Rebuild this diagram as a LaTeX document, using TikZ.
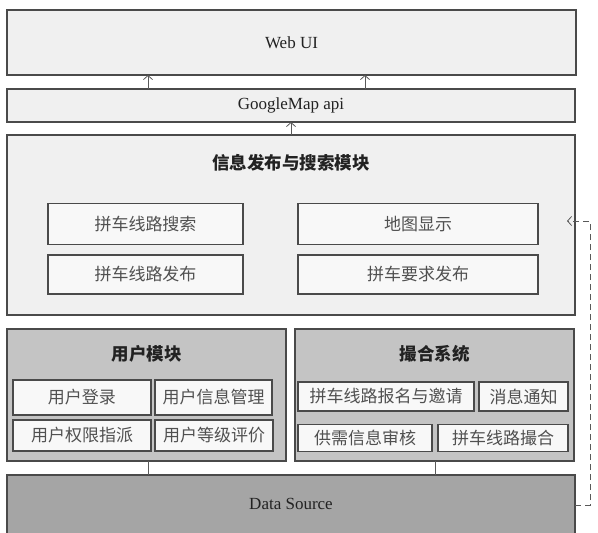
\documentclass[tikz,border=0pt]{standalone}
\usepackage{fontspec}
\setmainfont{Liberation Serif}
\newfontfamily\cjk{Noto Sans CJK SC}
\usetikzlibrary{arrows.meta}
\definecolor{bordc}{HTML}{4A4A4A}
\definecolor{lightf}{HTML}{F0F0F0}
\definecolor{subf}{HTML}{F8F8F8}
\definecolor{midf}{HTML}{C4C4C4}
\definecolor{darkf}{HTML}{A5A5A5}
\definecolor{txtc}{HTML}{222222}
\definecolor{subt}{HTML}{505050}
\tikzset{
  box/.style={draw=bordc, line width=1.2pt, inner sep=0pt, outer sep=0pt, font=\fontsize{17}{20}\selectfont, text=txtc},
  subbox/.style={box, fill=subf, text=subt, font=\cjk\fontsize{17}{20}\selectfont},
  ttl/.style={inner sep=0pt, text=txtc, font=\cjk\bfseries\fontsize{17.5}{20}\selectfont},
  arr/.style={draw=black!65, line width=0.8pt, -{Straight Barb[length=4pt,width=9pt]}},
  conn/.style={draw=black!65, line width=0.8pt},
}
\begin{document}
\begin{tikzpicture}[x=1pt,y=-1pt]
\clip (0,0) rectangle (598,533);
\fill[white] (0,0) rectangle (598,533);
% top layers
\node[box, fill=lightf, minimum width=569pt, minimum height=65pt] (webui) at (291.5,42.5) {Web UI};
\node[box, fill=lightf, minimum width=568pt, minimum height=33pt] (gmap) at (291,105.5) {GoogleMap api};
% info module
\node[box, fill=lightf, minimum width=568pt, minimum height=180pt] (info) at (291,225) {};
\node[ttl] (infot) at (291,163) {信息发布与搜索模块};
\node[subbox, minimum width=195pt, minimum height=41pt] (s1) at (145.5,224) {拼车线路搜索};
\node[subbox, minimum width=240pt, minimum height=41pt] (s2) at (418,224) {地图显示};
\node[subbox, minimum width=195pt, minimum height=39pt] (s3) at (145.5,274.5) {拼车线路发布};
\node[subbox, minimum width=240pt, minimum height=39pt] (s4) at (418,274.5) {拼车要求发布};
% user module
\node[box, fill=midf, minimum width=279pt, minimum height=132pt] (user) at (146.5,395) {};
\node[ttl] (usert) at (146.5,354) {用户模块};
\node[subbox, minimum width=138pt, minimum height=35pt] (u1) at (82,397.5) {用户登录};
\node[subbox, minimum width=117pt, minimum height=35pt] (u2) at (213.5,397.5) {用户信息管理};
\node[subbox, minimum width=138pt, minimum height=31pt] (u3) at (82,435.5) {用户权限指派};
\node[subbox, minimum width=118pt, minimum height=31pt] (u4) at (214,435.5) {用户等级评价};
% matching system
\node[box, fill=midf, minimum width=279pt, minimum height=132pt] (match) at (434.5,395) {};
\node[ttl] (matcht) at (434.5,354) {撮合系统};
\node[subbox, minimum width=176pt, minimum height=29pt] (m1) at (386,396.5) {拼车线路报名与邀请};
\node[subbox, minimum width=89pt, minimum height=29pt] (m2) at (523.5,396.5) {消息通知};
\node[subbox, minimum width=134pt, minimum height=27pt] (m3) at (365,438) {供需信息审核};
\node[subbox, minimum width=130pt, minimum height=27pt] (m4) at (503,438) {拼车线路撮合};
% data source
\node[box, fill=darkf, minimum width=568pt, minimum height=60pt] (ds) at (291,505) {};
\node[inner sep=0pt, text=txtc, font=\fontsize{17}{20}\selectfont] (dst) at (291,504) {Data Source};
% connectors
\draw[arr] ([xshift=-143pt]gmap.north) -- ([xshift=-143.5pt]webui.south);
\draw[arr] ([xshift=74pt]gmap.north) -- ([xshift=73.5pt]webui.south);
\draw[arr] (info.north) -- (gmap.south);
\draw[conn] ([xshift=1.5pt]user.south) -- ([xshift=1.5pt]user.south |- ds.north);
\draw[conn] ([xshift=0.5pt]match.south) -- ([xshift=0.5pt]match.south |- ds.north);
\coordinate (dsr) at (590,505);
\coordinate (infr) at (590,221);
\coordinate (tip) at (567,221);
\draw[arr, dashed, dash pattern=on 6pt off 4pt] (ds.east) -- (dsr) -- (infr) -- (tip);
\end{tikzpicture}
\end{document}
